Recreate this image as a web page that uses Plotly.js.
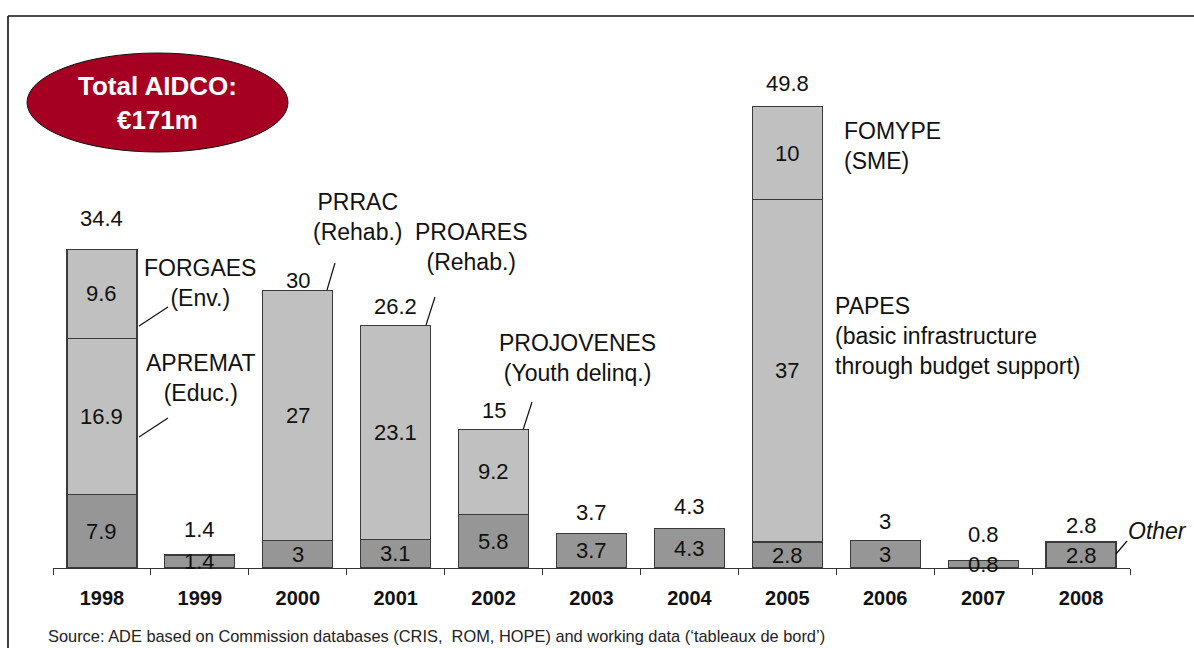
<!DOCTYPE html>
<html>
<head>
<meta charset="utf-8">
<script src="https://cdn.plot.ly/plotly-3.0.1.min.js"></script>
<style>html,body{margin:0;padding:0;background:#fff;}#chart{width:1194px;height:648px;}</style>
</head>
<body>
<div id="chart"></div>
<script>
// ---- data ----
const years = ['1998','1999','2000','2001','2002','2003','2004','2005','2006','2007','2008'];
const other = [7.9, 1.4, 3, 3.1, 5.8, 3.7, 4.3, 2.8, 3, 0.8, 2.8];
const projectMain = [16.9, null, 27, 23.1, 9.2, null, null, 37, null, null, null];
const projectTop = [9.6, null, null, null, null, null, null, 10, null, null, null];
const totals = [34.4, 1.4, 30, 26.2, 15, 3.7, 4.3, 49.8, 3, 0.8, 2.8];
const totalText = 'Total AIDCO:<br>€171m';
const sourceText = "Source: ADE based on Commission databases (CRIS,  ROM, HOPE) and working data (‘tableaux de bord’)";

// ---- layout helpers (pixel -> paper) ----
const L = 53, R = 1130, B = 568, T = 0;
const px = x => (x - L) / (R - L);
const py = y => (B - y) / (B - T);
const FONT = 'Liberation Sans, Arial, sans-serif';
const DARK = '#969696', LIGHT = '#c0c0c0', EDGE = '#3a3a3a';

const barLine = {color: EDGE, width: 1.2};
const traces = [
  {type:'bar', x: years, y: other, marker:{color: DARK, line: barLine}, hoverinfo:'skip'},
  {type:'bar', x: years, y: projectMain, marker:{color: LIGHT, line: barLine}, hoverinfo:'skip'},
  {type:'bar', x: years, y: projectTop, marker:{color: LIGHT, line: barLine}, hoverinfo:'skip'}
];

const annotations = [];
// segment labels (x given as category index)
years.forEach((yr, i) => {
  let base = 0;
  [other, projectMain, projectTop].forEach(s => {
    const v = s[i];
    if (v != null) {
      annotations.push({x: i, y: base + v / 2, xref:'x', yref:'y', text: String(v), showarrow:false,
        font:{family: FONT, size: 22, color:'#111'}, xanchor:'center', yanchor:'middle'});
      base += v;
    }
  });
});
// total labels (distance of text centre above bar top, px)
const totalLift = [31, 26, 10, 19, 19, 21, 22, 23, 19, 26, 17];
years.forEach((yr, i) => {
  annotations.push({x: i, y: totals[i], xref:'x', yref:'y', text: String(totals[i]), showarrow:false,
    yshift: totalLift[i], font:{family: FONT, size: 22, color:'#111'}, xanchor:'center', yanchor:'middle'});
});
// project labels
const lbl = (x, y, text, anchor, extra) => Object.assign({x: px(x), y: py(y), xref:'paper', yref:'paper', text, showarrow:false,
  font:{family: FONT, size: 23, color:'#111'}, xanchor: anchor, yanchor:'middle', align: anchor === 'left' ? 'left' : 'center'}, extra || {});
annotations.push(lbl(200, 283, 'FORGAES<br>(Env.)', 'center'));
annotations.push(lbl(200, 378, 'APREMAT<br>(Educ.)', 'center'));
annotations.push(lbl(357, 217, 'PRRAC<br>(Rehab.)', 'center'));
annotations.push(lbl(471, 247, 'PROARES<br>(Rehab.)', 'center'));
annotations.push(lbl(577, 358, 'PROJOVENES<br>(Youth delinq.)', 'center'));
annotations.push(lbl(842, 146, 'FOMYPE<br>(SME)', 'left'));
annotations.push(lbl(833, 336, 'PAPES<br>(basic infrastructure<br>through budget support)', 'left'));
annotations.push(lbl(1126, 531, '<i>Other</i>', 'left'));
// ellipse text
annotations.push(lbl(157, 103, '<b>' + totalText + '</b>', 'center', {font:{family: FONT, size: 26, color:'#fff'}}));
// source
annotations.push(lbl(46, 636, sourceText, 'left', {font:{family: FONT, size: 16.4, color:'#222'}}));

const seg = (x0, y0, x1, y1) => ({type:'line', xref:'paper', yref:'paper', x0: px(x0), y0: py(y0), x1: px(x1), y1: py(y1),
  line:{color:'#111', width:1.2}});
const shapes = [
  // frame (left + top)
  {type:'line', xref:'paper', yref:'paper', x0: px(8), y0: py(16), x1: px(1200), y1: py(16), line:{color:'#111', width:1.6}},
  {type:'line', xref:'paper', yref:'paper', x0: px(8), y0: py(16), x1: px(8), y1: py(660), line:{color:'#111', width:1.6}},
  // ellipse
  {type:'circle', xref:'paper', yref:'paper', x0: px(27), x1: px(288), y0: py(152), y1: py(53),
    fillcolor:'#a50021', line:{color:'#111', width:1}},
  // leader lines
  seg(139, 326, 168, 307),
  seg(139, 437, 168, 418),
  seg(327, 290, 335, 263),
  seg(426, 325, 435, 297),
  seg(523, 430, 532, 402),
  seg(1116, 554, 1127, 541)
];

const layout = {
  width: 1194, height: 648,
  margin: {l: L, r: 1194 - R, t: T, b: 648 - B},
  paper_bgcolor:'#fff', plot_bgcolor:'#fff',
  barmode:'stack', bargap: 0.285, showlegend:false,
  xaxis: {type:'category', range:[-0.5, 10.5], tickson:'boundaries', ticks:'outside', ticklen:6, tickcolor:'#333',
    showline:true, linecolor:'#333', linewidth:1, showgrid:false, zeroline:false, ticklabelstandoff: 12,
    tickfont:{family: FONT, size: 20, color:'#111', weight:'bold'}, fixedrange:true},
  yaxis: {range:[0, 61.34], visible:false, showgrid:false, zeroline:false, fixedrange:true},
  annotations, shapes,
  font:{family: FONT}
};

Plotly.newPlot('chart', traces, layout, {displayModeBar:false, staticPlot:true});
</script>
</body>
</html>
